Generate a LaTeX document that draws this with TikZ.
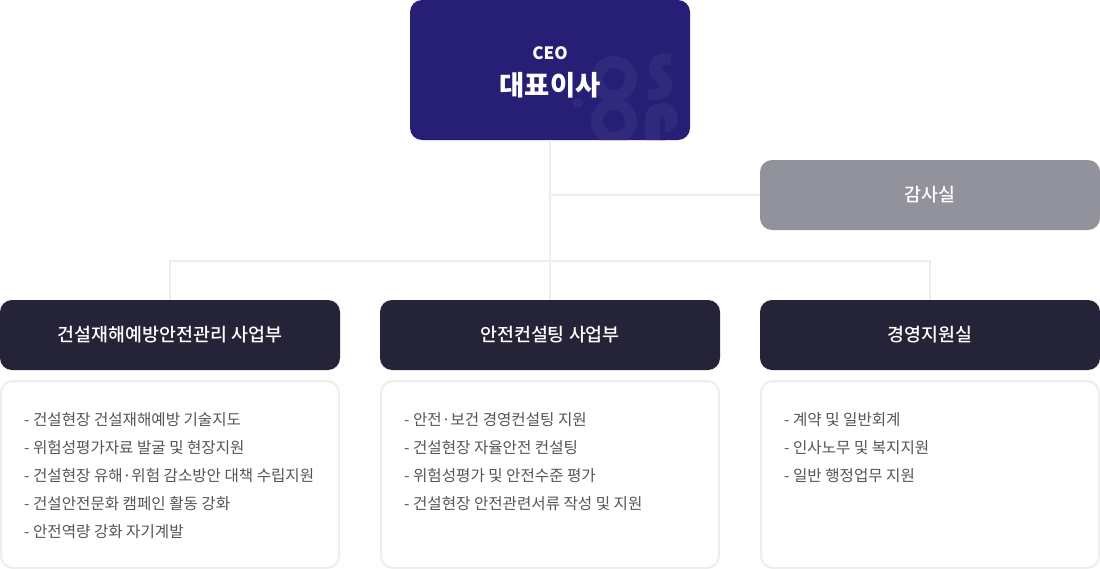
\documentclass[tikz,border=0pt]{standalone}
\usepackage{fontspec}
\usepackage{xcolor}
\setmainfont{Noto Sans CJK KR}
\newfontfamily\medfont{Noto Sans CJK KR Medium}
\usetikzlibrary{shapes}
\definecolor{ceoblue}{HTML}{271F75}
\definecolor{markblue}{HTML}{2F2A7C}
\definecolor{auditgray}{HTML}{92929C}
\definecolor{deptdark}{HTML}{252337}
\definecolor{linegray}{HTML}{EEEEEE}
\definecolor{listtext}{HTML}{555555}
\tikzset{
    ceobox/.style={draw=none,fill=ceoblue,rounded corners=12bp,minimum width=280bp,minimum height=140bp,inner sep=0pt},
    auditbox/.style={fill=auditgray,rounded corners=12bp,minimum width=340bp,minimum height=70bp,inner sep=0pt,text=white,font=\medfont\fontsize{18.4bp}{22bp}\selectfont},
    deptbox/.style={fill=deptdark,rounded corners=12bp,minimum width=340bp,minimum height=70bp,inner sep=0pt,text=white,font=\medfont\fontsize{18.4bp}{22bp}\selectfont},
    listbox/.style={draw=linegray,line width=2bp,fill=white,rounded corners=12bp,minimum width=338bp,minimum height=187bp,inner sep=0pt},
    listtxt/.style={anchor=north west,inner sep=0pt,align=left,text=listtext,font=\fontsize{15.6bp}{28bp}\selectfont},
    orgline/.style={draw=linegray,line width=2bp}
}
\begin{document}
\begin{tikzpicture}[x=1bp,y=1bp]
    \useasboundingbox (0bp,0bp) rectangle (1100bp,-569bp);
    % connectors first, boxes sit on top
    \coordinate (TOPBAR) at (550bp,-261bp);
    \coordinate (AUDITJOIN) at (550bp,-195bp);
    \node (CEO) at (550bp,-70bp)[ceobox] {};
    \node (AUDIT) at (930bp,-195bp)[auditbox] {감사실};
    \node (DEPT1) at (170bp,-335bp)[deptbox] {건설재해예방안전관리 사업부};
    \node (DEPT2) at (550bp,-335bp)[deptbox] {안전컨설팅 사업부};
    \node (DEPT3) at (930bp,-335bp)[deptbox] {경영지원실};
    \draw [orgline] (CEO.south) to (DEPT2.north);
    \draw [orgline] (AUDITJOIN) to (AUDIT.west);
    \draw [orgline] (DEPT1.north) |- (TOPBAR) -| (DEPT3.north);
    % faint mark inside the CEO box
    \begin{scope}
        \clip [rounded corners=12bp] (410bp,0bp) rectangle (690bp,-140bp);
        \draw [markblue,line width=12bp] (614bp,-79bp) circle (17bp);
        \draw [markblue,line width=12bp] (614bp,-121bp) circle (17bp);
        \fill [markblue] (578bp,-103bp) circle (5bp);
        \fill [markblue] (671bp,-53bp) .. controls (655bp,-52bp) and (647bp,-60bp) .. (649bp,-72bp) .. controls (651bp,-80bp) and (659bp,-80bp) .. (659bp,-86bp) .. controls (659bp,-90bp) and (652bp,-90bp) .. (648bp,-89bp) -- (648bp,-100bp) .. controls (662bp,-102bp) and (672bp,-96bp) .. (672bp,-84bp) .. controls (672bp,-74bp) and (662bp,-72bp) .. (662bp,-67bp) .. controls (662bp,-64bp) and (667bp,-64bp) .. (671bp,-66bp) -- cycle;
        \fill [markblue] (645bp,-140bp) -- (645bp,-119bp) .. controls (645bp,-109bp) and (653bp,-103bp) .. (662bp,-103bp) .. controls (672bp,-103bp) and (678bp,-110bp) .. (678bp,-119bp) .. controls (678bp,-127bp) and (673bp,-132bp) .. (665bp,-132bp) -- (665bp,-140bp) -- cycle;
        \fill [ceoblue] (660bp,-141bp) -- (660bp,-120bp) .. controls (660bp,-115bp) and (665bp,-115bp) .. (665bp,-120bp) -- (665bp,-141bp) -- cycle;
    \end{scope}
    \node (CEOEN) at (550bp,-53bp)[text=white,font=\fontsize{17bp}{20bp}\selectfont\bfseries,inner sep=0pt] {CEO};
    \node (CEOKR) at (550bp,-85.5bp)[text=white,font=\fontsize{27.4bp}{32bp}\selectfont\bfseries,inner sep=0pt] {대표이사};
    % duty lists
    \node (BOX1) at (170bp,-474.5bp)[listbox] {};
    \node (BOX2) at (550bp,-474.5bp)[listbox] {};
    \node (BOX3) at (930bp,-474.5bp)[listbox] {};
    \node (LIST1) at (24bp,-412bp)[listtxt] {- 건설현장 건설재해예방 기술지도\\- 위험성평가자료 발굴 및 현장지원\\- 건설현장 유해·위험 감소방안 대책 수립지원\\- 건설안전문화 캠페인 활동 강화\\- 안전역량 강화 자기계발};
    \node (LIST2) at (404bp,-412bp)[listtxt] {- 안전·보건 경영컨설팅 지원\\- 건설현장 자율안전 컨설팅\\- 위험성평가 및 안전수준 평가\\- 건설현장 안전관련서류 작성 및 지원};
    \node (LIST3) at (784bp,-412bp)[listtxt] {- 계약 및 일반회계\\- 인사노무 및 복지지원\\- 일반 행정업무 지원};
\end{tikzpicture}
\end{document}
